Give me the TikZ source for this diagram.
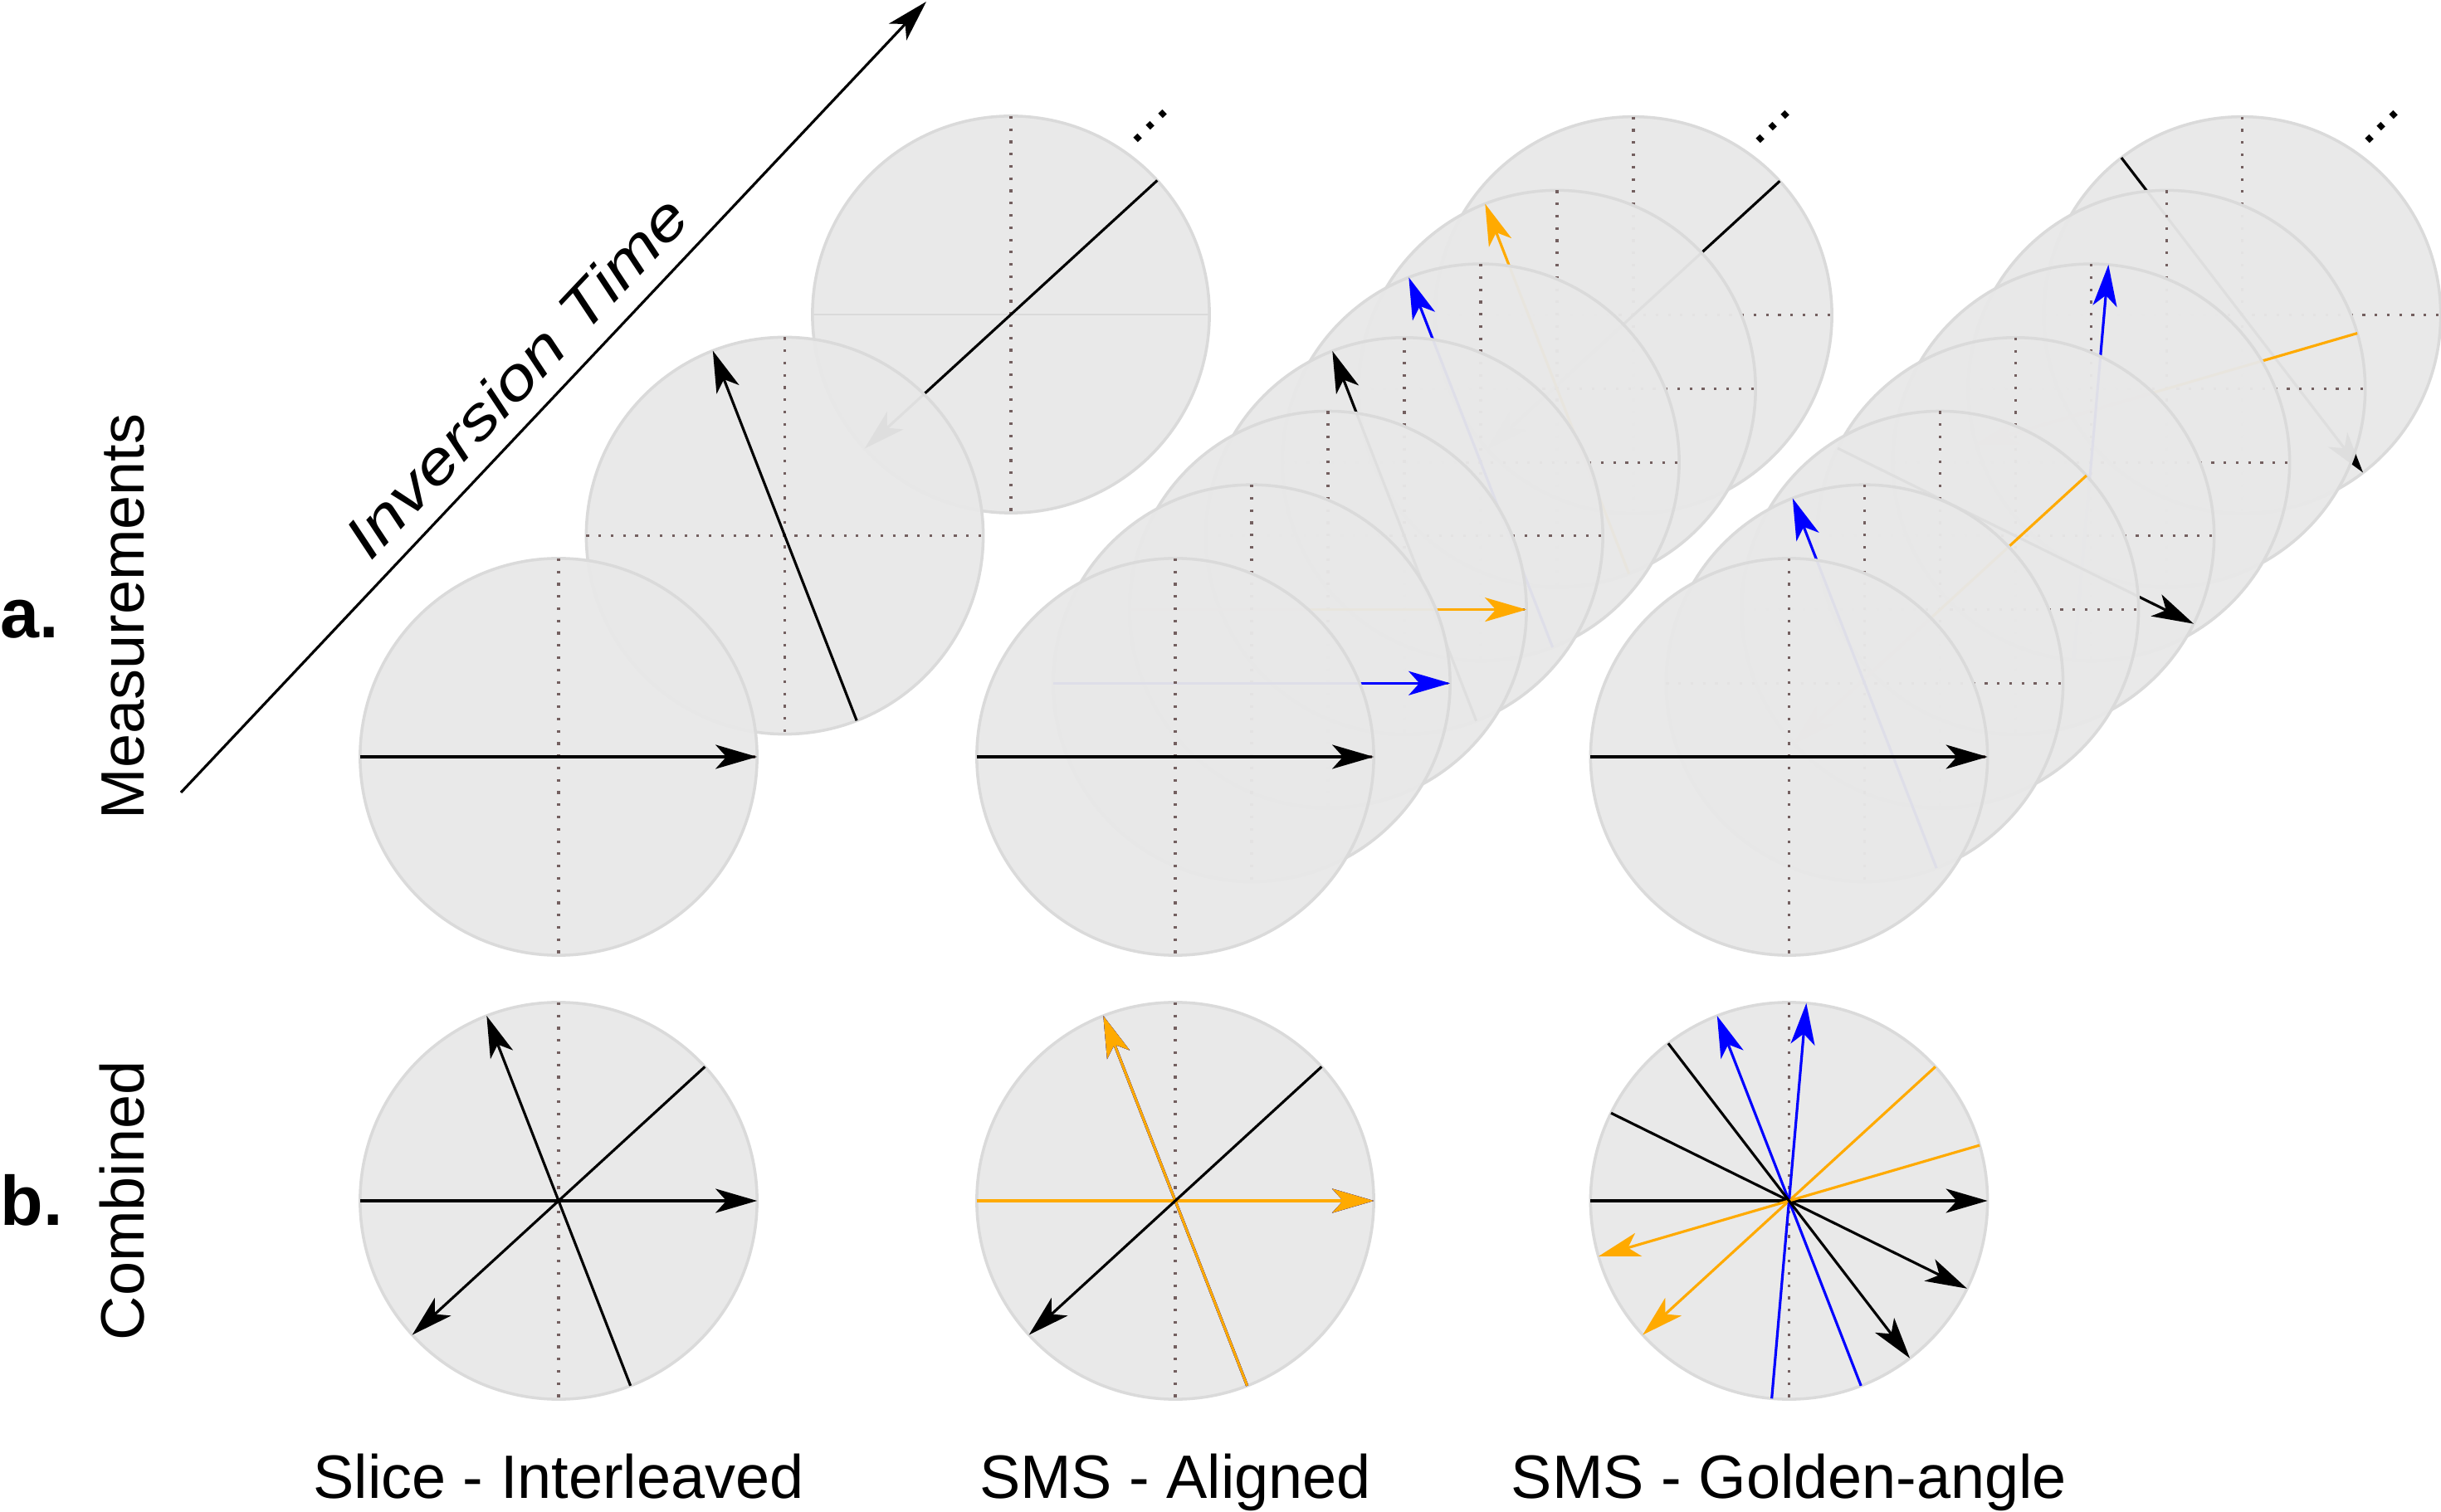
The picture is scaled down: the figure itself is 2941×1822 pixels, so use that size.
\documentclass[tikz,border=0pt]{standalone}
\usepackage{fontspec}
\setmainfont{Liberation Sans}
\newfontface\invfont{Liberation Sans Italic}[FakeStretch=1.2]
\usetikzlibrary{arrows.meta,calc,positioning}

\definecolor{diskgray}{RGB}{232,232,232}
\definecolor{ringgray}{RGB}{218,218,218}
\definecolor{axisgray}{RGB}{115,95,95}
\definecolor{orng}{RGB}{255,170,0}
\newcommand{\diskr}{2.39cm}

\begin{document}
\begin{tikzpicture}[x=0.01cm, y=-0.01cm,
    disk/.style={circle, minimum size=4.78cm, inner sep=0pt, outer sep=0pt,
                 draw=ringgray, line width=1pt, fill=diskgray, fill opacity=0.96},
    axis/.style={axisgray, line width=0.9pt, dash pattern=on 0.9pt off 3.3pt},
    faint/.style={ringgray, line width=0.8pt},
    vec/.style={line width=0.9pt, -{Stealth[length=0.5cm, width=0.29cm, inset=0.13cm]}},
    lbl/.style={font=\fontsize{21}{25}\selectfont, inner sep=0pt},
    part/.style={font=\fontsize{24}{28}\selectfont\bfseries, inner sep=0pt}]
    \useasboundingbox (0,0) rectangle (2941,1822);

    % time axis
    \coordinate (tstart) at (218,955);
    \coordinate (tend) at (1116,2);
    \draw[vec] (tstart) -- node[sloped, above=0.22cm, pos=0.49, inner sep=0pt,
        font=\fontsize{20.5}{25}\invfont] {Inversion Time} (tend);

    % a. measurements: slice interleaved
    \foreach \n/\a/\h in {3/222.5/faint, 2/111.25/axis, 1/0/axis} {
        \node[disk] (sl\n) at ({673+272.5*(\n-1)}, {912-266.5*(\n-1)}) {};
        \draw[axis] (sl\n.north) -- (sl\n.south);
        \draw[\h] (sl\n.west) -- (sl\n.east);
        \draw[vec] ($(sl\n.center)+(\a+180:\diskr)$) -- ($(sl\n.center)+(\a:\diskr)$);
    }
    \node[lbl, rotate=44] (more1) at ($(sl3.center)+(168,-227)$) {...};

    % SMS aligned
    \foreach \n/\a/\c in {7/222.5/black, 6/111.25/orng, 5/111.25/blue, 4/111.25/black,
                          3/0/orng, 2/0/blue, 1/0/black} {
        \node[disk] (al\n) at ({1416+92*(\n-1)}, {912-88.7*(\n-1)}) {};
        \draw[axis] (al\n.north) -- (al\n.south);
        \draw[axis] (al\n.west) -- (al\n.east);
        \draw[vec, \c] ($(al\n.center)+(\a+180:\diskr)$) -- ($(al\n.center)+(\a:\diskr)$);
    }
    \node[lbl, rotate=44] (more2) at ($(al7.center)+(168,-227)$) {...};

    % SMS golden angle
    \foreach \n/\a/\c in {7/667.5/black, 6/556.25/orng, 5/445/blue, 4/333.75/black,
                          3/222.5/orng, 2/111.25/blue, 1/0/black} {
        \node[disk] (ga\n) at ({2155.5+91*(\n-1)}, {912-88.7*(\n-1)}) {};
        \draw[axis] (ga\n.north) -- (ga\n.south);
        \draw[axis] (ga\n.west) -- (ga\n.east);
        \draw[vec, \c] ($(ga\n.center)+(\a+180:\diskr)$) -- ($(ga\n.center)+(\a:\diskr)$);
    }
    \node[lbl, rotate=44] (more3) at ($(ga7.center)+(168,-227)$) {...};

    % b. combined
    \node[disk] (cb1) at (673,1447) {};
    \draw[axis] (cb1.north) -- (cb1.south);
    \foreach \a in {0, 111.25, 222.5}
        \draw[vec] ($(cb1.center)+(\a+180:\diskr)$) -- ($(cb1.center)+(\a:\diskr)$);

    \node[disk] (cb2) at (1416,1447) {};
    \draw[axis] (cb2.north) -- (cb2.south);
    \foreach \a/\c in {0/black, 0/blue, 0/orng, 111.25/black, 111.25/blue, 111.25/orng, 222.5/black}
        \draw[vec, \c] ($(cb2.center)+(\a+180:\diskr)$) -- ($(cb2.center)+(\a:\diskr)$);

    \node[disk] (cb3) at (2155.5,1447) {};
    \draw[axis] (cb3.north) -- (cb3.south);
    \foreach \a/\c in {0/black, 111.25/blue, 222.5/orng, 333.75/black, 445/blue, 556.25/orng, 667.5/black}
        \draw[vec, \c] ($(cb3.center)+(\a+180:\diskr)$) -- ($(cb3.center)+(\a:\diskr)$);

    % row and column labels
    \coordinate (base) at (0,1805);
    \node[lbl, anchor=base] (lab1) at (cb1 |- base) {Slice - Interleaved};
    \node[lbl, anchor=base] (lab2) at (cb2 |- base) {SMS - Aligned};
    \node[lbl, anchor=base] (lab3) at (cb3 |- base) {SMS - Golden-angle};

    \node[lbl, rotate=90, anchor=base] (meas) at (173,743) {Measurements};
    \node[lbl, rotate=90, anchor=base] (comb) at (173,1447) {Combined};
    \node[part, anchor=base west] (parta) at (0,769) {a.};
    \node[part, anchor=base west] (partb) at (0,1476) {b.};
\end{tikzpicture}
\end{document}
